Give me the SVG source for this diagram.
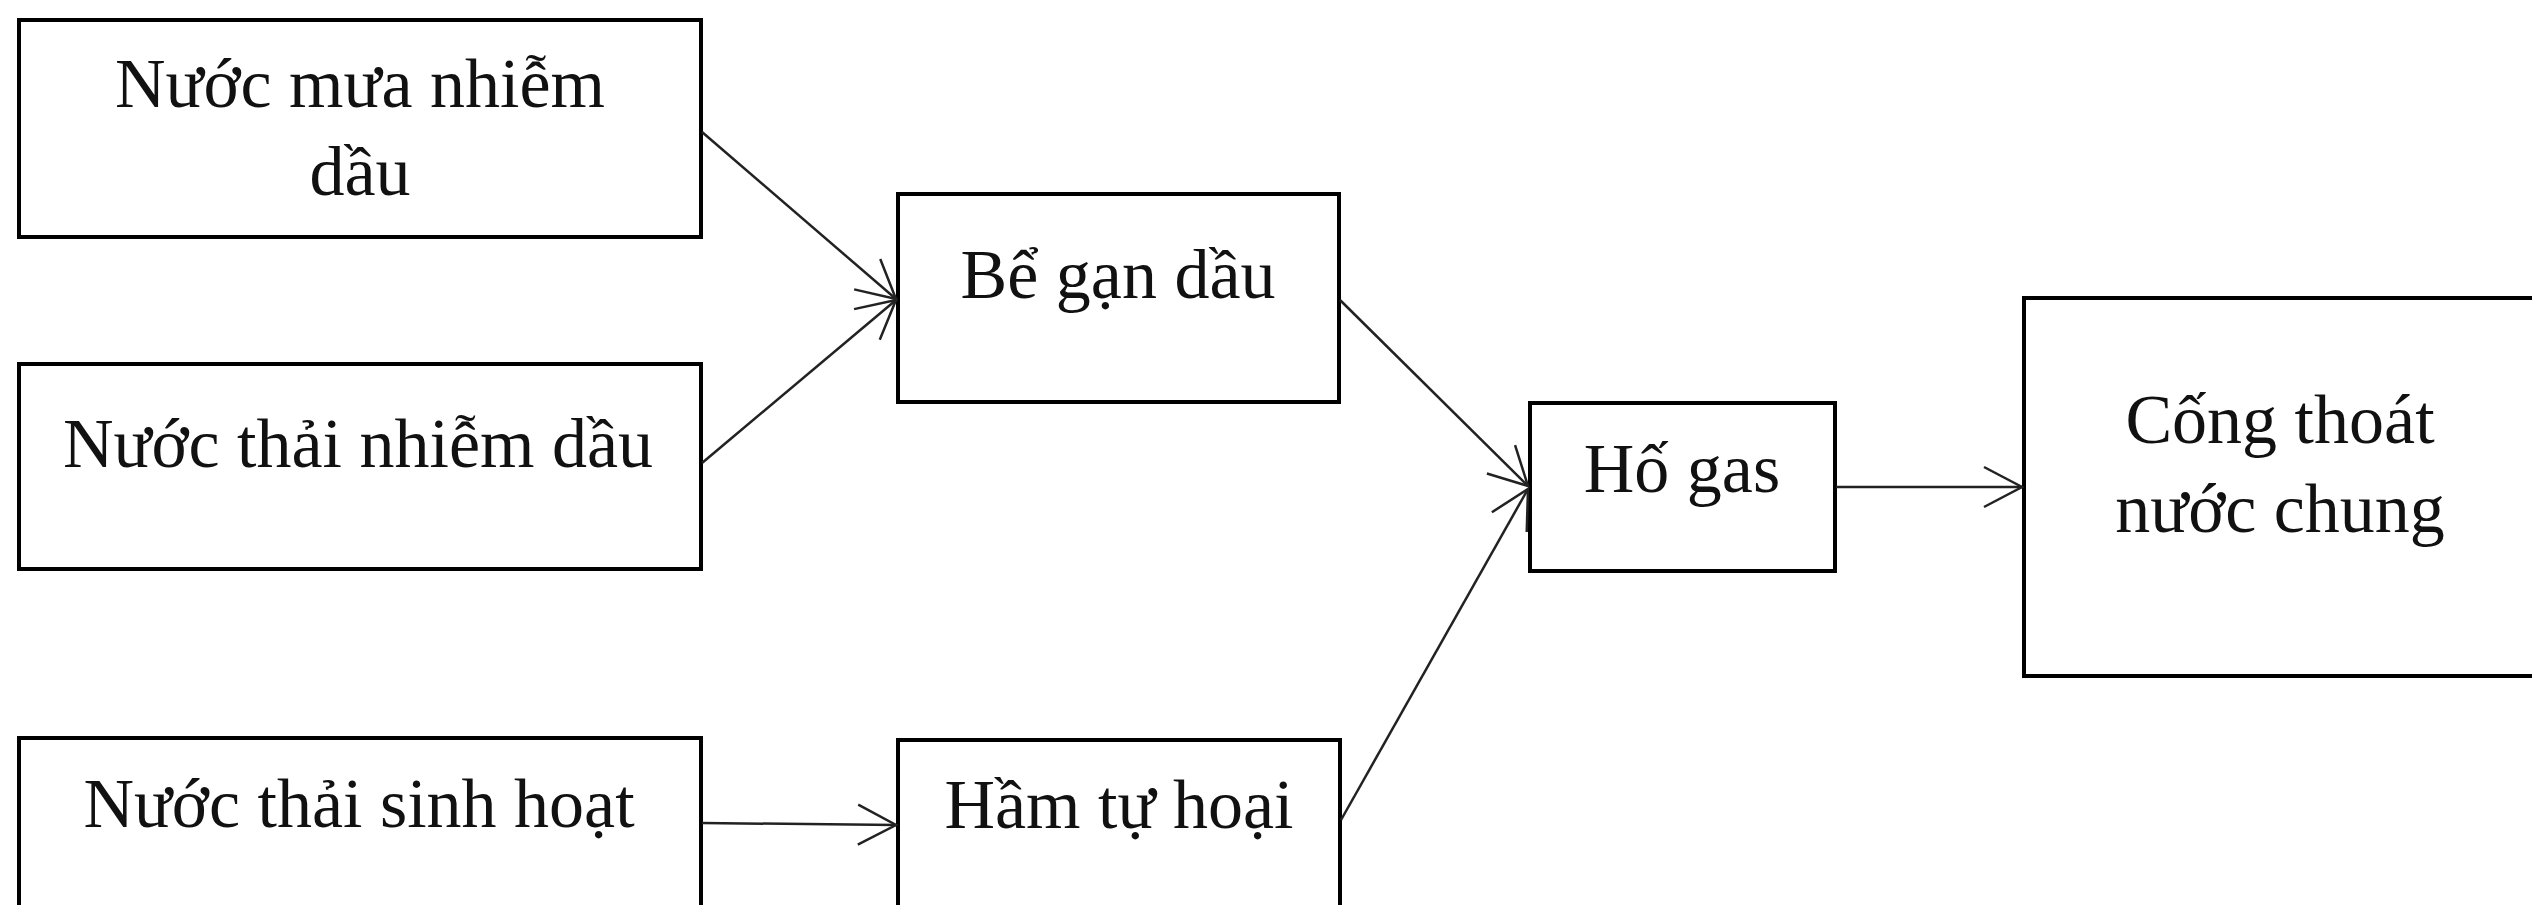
<svg xmlns="http://www.w3.org/2000/svg" width="2532" height="905" viewBox="0 0 2532 905">
<style>
.box{fill:#fff;stroke:#000;stroke-width:4}
.lbl{font-family:"Liberation Serif","Times New Roman",serif;font-size:70px;fill:#111;text-anchor:middle}
.edge{stroke:#222;stroke-width:2.5;fill:none;marker-end:url(#arr)}
</style>
<defs>
<marker id="arr" markerUnits="userSpaceOnUse" markerWidth="60" markerHeight="60" viewBox="-50 -30 60 60" refX="0" refY="0" orient="auto" overflow="visible">
<path d="M-38,-20 L0,0 L-38,20" fill="none" stroke="#222" stroke-width="2.5"/>
</marker>
</defs>
<rect width="2532" height="905" fill="#fff"/>
<g id="n1"><rect class="box" x="19" y="20" width="682" height="217"/><text class="lbl" x="360" y="107">Nước mưa nhiễm</text><text class="lbl" x="360" y="195">dầu</text></g>
<g id="n2"><rect class="box" x="19" y="364" width="682" height="205"/><text class="lbl" x="358" y="467">Nước thải nhiễm dầu</text></g>
<g id="n3"><rect class="box" x="19" y="738" width="682" height="190"/><text class="lbl" x="359" y="827">Nước thải sinh hoạt</text></g>
<g id="n4"><rect class="box" x="898" y="194" width="441" height="208"/><text class="lbl" x="1118" y="298">Bể gạn dầu</text></g>
<g id="n5"><rect class="box" x="898" y="740" width="442" height="190"/><text class="lbl" x="1119" y="828">Hầm tự hoại</text></g>
<g id="n6"><rect class="box" x="1530" y="403" width="305" height="168"/><text class="lbl" x="1682" y="492">Hố gas</text></g>
<g id="n7"><rect class="box" x="2024" y="298" width="520" height="378"/><text class="lbl" x="2280" y="443">Cống thoát</text><text class="lbl" x="2280" y="532">nước chung</text></g>
<g id="edges">
<line class="edge" x1="702" y1="132" x2="896" y2="299"/>
<line class="edge" x1="702" y1="463" x2="896" y2="300"/>
<line class="edge" x1="702" y1="823" x2="896" y2="825"/>
<line class="edge" x1="1340" y1="300" x2="1528" y2="486"/>
<line class="edge" x1="1341" y1="820" x2="1528" y2="489"/>
<line class="edge" x1="1836" y1="487" x2="2022" y2="487"/>
</g>
</svg>
